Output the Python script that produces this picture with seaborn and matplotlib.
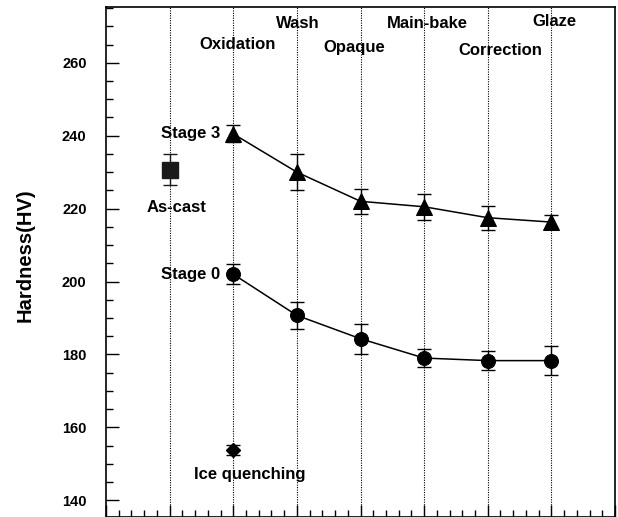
import matplotlib
matplotlib.use("Agg")
import matplotlib.pyplot as plt
import seaborn as sns
import pandas as pd
from matplotlib.ticker import MultipleLocator

sns.set_theme(style="white")
plt.rcParams['font.family'] = ['Liberation Sans', 'DejaVu Sans']

# Data
steps = ["Oxidation", "Wash", "Opaque", "Main-bake", "Correction", "Glaze"]
step_pos = [2, 3, 4, 5, 6, 7]
stage3 = [240.5, 230.0, 222.0, 220.5, 217.5, 216.3]
stage3_err = [2.3, 5.0, 3.5, 3.5, 3.3, 2.0]
stage0 = [202.0, 190.7, 184.3, 179.0, 178.3, 178.3]
stage0_err = [2.7, 3.8, 4.1, 2.4, 2.5, 3.9]
ascast_pos = [1]
ascast = [230.7]
ascast_err = [4.2]
ice_pos = [2]
ice = [153.8]
ice_err = [1.3]

fig = plt.figure(figsize=(6.18, 5.17), dpi=100)
ax = fig.add_axes([106/618, 0.0, (615-106)/618, (517-7)/517])

df3 = pd.DataFrame({"x": step_pos, "y": stage3})
df0 = pd.DataFrame({"x": step_pos, "y": stage0})

# vertical dotted guide lines
for xv in [1] + step_pos:
    ax.axvline(xv, color="black", linestyle=(0, (1, 1.2)), linewidth=0.8, zorder=1)

sns.lineplot(data=df3, x="x", y="y", ax=ax, color="black", linewidth=1.1,
             marker="^", markersize=11, markeredgecolor="black", zorder=3)
sns.lineplot(data=df0, x="x", y="y", ax=ax, color="black", linewidth=1.1,
             marker="o", markersize=10, markeredgecolor="black", zorder=3)
ax.errorbar(step_pos, stage3, yerr=stage3_err, fmt="none", ecolor="black",
            elinewidth=1.0, capsize=5, capthick=1.0, zorder=2)
ax.errorbar(step_pos, stage0, yerr=stage0_err, fmt="none", ecolor="black",
            elinewidth=1.0, capsize=5, capthick=1.0, zorder=2)

ax.errorbar(ascast_pos, ascast, yerr=ascast_err, fmt="s", color="#1a1a1a",
            markersize=11.5, elinewidth=1.0, capsize=5, capthick=1.0, zorder=3)
ax.errorbar(ice_pos, ice, yerr=ice_err, fmt="D", color="black",
            markersize=7, elinewidth=1.0, capsize=5, capthick=1.0, zorder=3)

ax.set_xlim(0, 8)
ax.set_ylim(135.4, 275.3)
ax.set_xticks(range(0, 9))
ax.set_xticklabels([])
ax.xaxis.set_minor_locator(MultipleLocator(0.2))
ax.set_yticks([140, 160, 180, 200, 220, 240, 260])
ax.yaxis.set_minor_locator(MultipleLocator(5))
ax.tick_params(axis="both", which="major", direction="in", length=9, width=1,
               color="black", left=True, bottom=True, right=False, top=False)
ax.tick_params(axis="both", which="minor", direction="in", length=5, width=1,
               color="black", left=True, bottom=True, right=False, top=False)
ax.tick_params(axis="y", labelsize=10.5, pad=14, labelcolor="black")
for lab in ax.get_yticklabels():
    lab.set_fontweight("bold")
ax.set_xlabel("")
ax.set_ylabel("Hardness(HV)", fontsize=14.5, fontweight="bold", color="black")
ax.yaxis.set_label_coords(-0.141, 0.514)
for sp in ax.spines.values():
    sp.set_color("black")
    sp.set_linewidth(1.2)

fs = 12
kw = dict(fontsize=fs, fontweight="bold", color="black")
ax.text(2.06, 264.9, "Oxidation", ha="center", va="center", **kw)
ax.text(3.01, 270.9, "Wash", ha="center", va="center", **kw)
ax.text(3.90, 264.3, "Opaque", ha="center", va="center", **kw)
ax.text(5.05, 270.9, "Main-bake", ha="center", va="center", **kw)
ax.text(6.19, 263.5, "Correction", ha="center", va="center", **kw)
ax.text(7.05, 271.2, "Glaze", ha="center", va="center", **kw)

ax.text(1.79, stage3[0], "Stage 3", ha="right", va="center", **kw)
ax.text(1.79, stage0[0], "Stage 0", ha="right", va="center", **kw)
ax.text(1.11, 220.3, "As-cast", ha="center", va="center", **kw)
ax.text(2.26, 147.1, "Ice quenching", ha="center", va="center", **kw)

fig.savefig("out.png", dpi=100)
